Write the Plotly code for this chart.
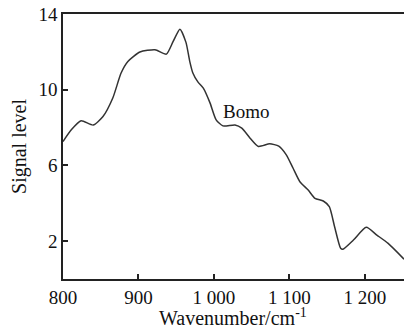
import plotly.graph_objects as go

wavenumber = [800, 811, 824, 840, 853, 866, 877, 886, 902, 922, 937, 946, 955, 963, 968, 972,
              979, 986, 995, 1003, 1012, 1028, 1037, 1048, 1059, 1074, 1086, 1096, 1105, 1114,
              1125, 1134, 1145, 1153, 1160, 1168, 1171, 1185, 1202, 1216, 1231, 1252]
signal = [7.26, 7.88, 8.36, 8.13, 8.58, 9.56, 10.88, 11.49, 11.99, 12.11, 11.88, 12.55, 13.2,
          12.5, 11.5, 10.9, 10.4, 10.08, 9.29, 8.41, 8.09, 8.14, 7.97, 7.44, 7.0, 7.14, 7.02,
          6.56, 5.85, 5.14, 4.70, 4.26, 4.12, 3.82, 2.76, 1.62, 1.57, 2.06, 2.73, 2.32, 1.88, 1.05]

x_ticks = [800, 900, 1000, 1100, 1200]
x_ticklabels = ["800", "900", "1 000", "1 100", "1 200"]
y_ticks = [2, 6, 10, 14]

FONT = "Liberation Serif"
TXT = "#111111"

fig = go.Figure()
fig.add_trace(go.Scatter(x=wavenumber, y=signal, mode="lines",
                         line=dict(color="#333333", width=1.5, shape="spline", smoothing=0.6),
                         showlegend=False, hoverinfo="skip"))

fig.add_annotation(x=1010, y=8.85, xref="x", yref="y", text="Bomo", showarrow=False,
                   xanchor="left", yanchor="middle", font=dict(family=FONT, size=19, color=TXT))
fig.add_annotation(x=(232.5 - 63) / 341, y=-(316.5 - 279) / 265, xref="paper", yref="paper",
                   text="Wavenumber/cm<sup>-1</sup>", showarrow=False,
                   xanchor="center", yanchor="middle",
                   font=dict(family=FONT, size=20, color=TXT))

fig.update_layout(
    width=404, height=326,
    margin=dict(l=63, r=0, t=14, b=47),
    paper_bgcolor="white", plot_bgcolor="white",
    font=dict(family=FONT, size=19, color=TXT),
    xaxis=dict(range=[800, 1252], tickvals=x_ticks, ticktext=x_ticklabels,
               showgrid=False, zeroline=False, showline=True, linecolor="#222", linewidth=1.5,
               mirror=True, ticks="inside", ticklen=5, tickcolor="#222", tickwidth=1.5),
    yaxis=dict(range=[0, 14], tickvals=y_ticks, showgrid=False, zeroline=False,
               showline=True, linecolor="#222", linewidth=1.5, ticks="inside", ticklen=5,
               tickcolor="#222", tickwidth=1.5,
               title=dict(text="Signal level", standoff=6, font=dict(size=20))),
)

fig.write_html("out.html")
